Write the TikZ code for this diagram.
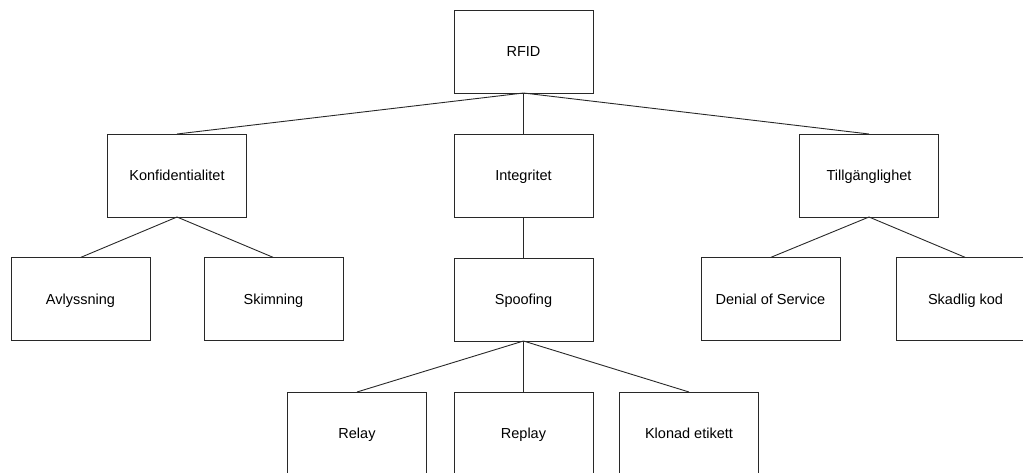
\documentclass[tikz,border=0pt]{standalone}
\usepackage{fontspec}
\setmainfont{Liberation Sans}
\usepackage{tikz}
\usetikzlibrary{positioning}
\definecolor{LineGray}{RGB}{40,40,40}

\begin{document}
\begin{tikzpicture}[
  x=1pt, y=-1pt,
  font=\fontsize{14.5}{17}\selectfont,
  node distance=41pt and 17pt,
  box/.style={
    draw=LineGray,
    line width=0.9pt,
    fill=white,
    align=center,
    inner sep=2pt,
    outer sep=0pt,
    text height=10.4pt,
    text depth=0pt,
    minimum width=139pt,
    minimum height=83pt,
  },
  link/.style={draw=LineGray, line width=0.9pt},
]
  \useasboundingbox (0,0) rectangle (1023,472);
  \clip (0,0) rectangle (1023,472);

  % -------- rot --------
  \node[box] (rfid) at (523.5,51.5) {RFID};

  % -------- nivå 1 --------
  \node[box] (konf) at (177,175.5) {Konfidentialitet};
  \node[box, below=of rfid] (integ) {Integritet};
  \node[box] (tillg) at (869,175.5) {Tillgänglighet};

  % -------- nivå 2 --------
  \node[box] (avlys) at (80.5,299) {Avlyssning};
  \node[box] (skim) at (273.5,299) {Skimning};
  \node[box, below=of integ] (spoof) {Spoofing};
  \node[box] (dos) at (770.5,299) {Denial of Service};
  \node[box] (skadlig) at (965.5,299) {Skadlig kod};

  % -------- nivå 3 (under Spoofing) --------
  \node[box, below=51pt of spoof] (replay) {Replay};
  \node[box] (relay) at (357,433.5) {Relay};
  \node[box] (klon) at (689,433.5) {Klonad etikett};

  % -------- kanter --------
  \foreach \kid in {konf, integ, tillg}
    \draw[link] (rfid.south) -- (\kid.north);
  \foreach \kid in {avlys, skim}
    \draw[link] (konf.south) -- (\kid.north);
  \draw[link] (integ.south) -- (spoof.north);
  \foreach \kid in {dos, skadlig}
    \draw[link] (tillg.south) -- (\kid.north);
  \foreach \kid in {relay, replay, klon}
    \draw[link] (spoof.south) -- (\kid.north);
\end{tikzpicture}
\end{document}
